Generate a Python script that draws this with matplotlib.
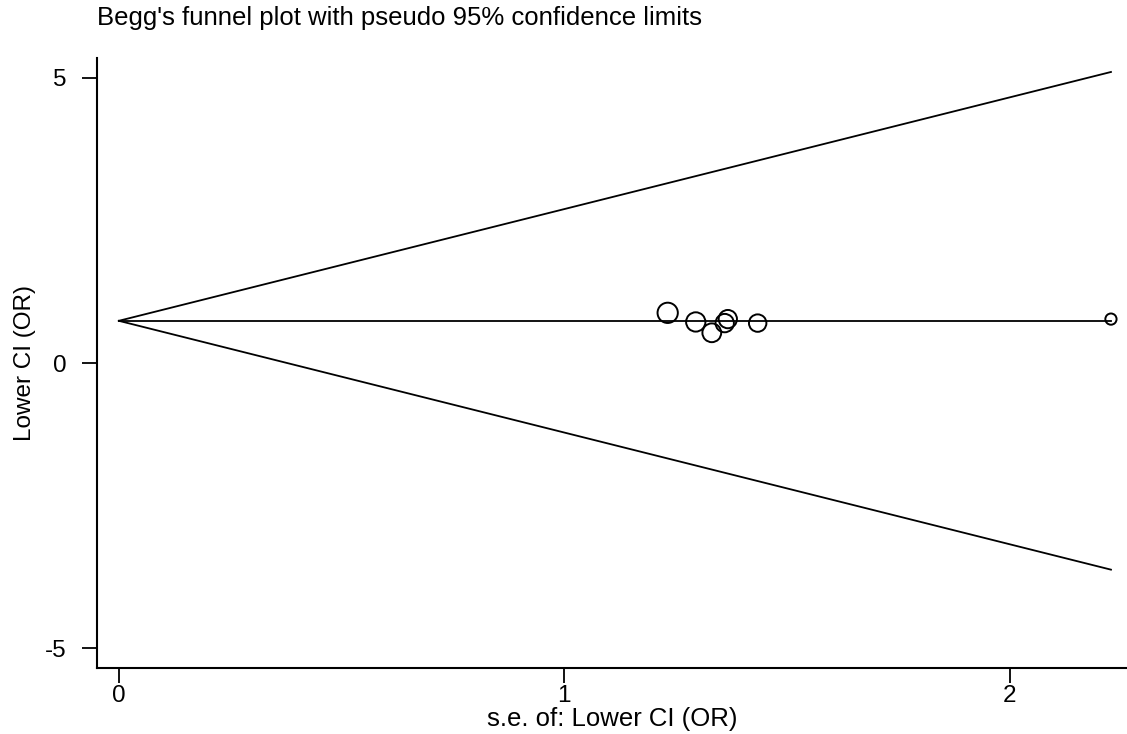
import numpy as np
import matplotlib
matplotlib.use("Agg")
import matplotlib.pyplot as plt

plt.rcParams['font.family'] = ['Liberation Sans', 'DejaVu Sans']
plt.rcParams['axes.unicode_minus'] = False

# Study estimates: standard error and log odds ratio (lower CI)
se = [1.232, 1.295, 1.331, 1.360, 1.367, 1.434, 2.227]
theta = [0.88, 0.72, 0.53, 0.70, 0.77, 0.70, 0.77]
pooled = 0.74
se_max = 2.227

title = "Begg's funnel plot with pseudo 95% confidence limits"
xlabel = "s.e. of: Lower CI (OR)"
ylabel = "Lower CI (OR)"
xticks = [0, 1, 2]
yticks = [5, 0, -5]

fig = plt.figure(figsize=(11.27, 7.34), dpi=100)
ax = fig.add_axes([97 / 1127, 66 / 734, 1 - 97 / 1127, (668 - 58) / 734])

s_line = np.array([0.0, se_max])
ax.plot(s_line, pooled + 1.96 * s_line, color='black', lw=1.3)
ax.plot(s_line, pooled - 1.96 * s_line, color='black', lw=1.3)
ax.plot(s_line, [pooled, pooled], color='black', lw=1.3)

# marker diameter scales with precision (1/se)
se_arr = np.array(se)
sizes = (0.72 * 25.0 / se_arr) ** 2
ax.scatter(se, theta, s=sizes, facecolors='none', edgecolors='black',
           linewidths=1.4, zorder=3)

ax.set_xlim(-0.049, 2.263)
ax.set_ylim(-5.35, 5.35)
ax.set_xticks(xticks)
ax.set_yticks(yticks)
ax.tick_params(direction='out', length=11, width=1.3, labelsize=17.5)
ax.tick_params(axis='x', pad=1)
ax.tick_params(axis='y', pad=11)
for side in ('top', 'right'):
    ax.spines[side].set_visible(False)
for side in ('left', 'bottom'):
    ax.spines[side].set_linewidth(1.5)

ax.set_xlabel(xlabel, fontsize=18.5, labelpad=0)
ax.set_ylabel(ylabel, fontsize=17.5, labelpad=6)
fig.text(97 / 1127, 1 - 18 / 734, title, fontsize=18.5, ha='left', va='center')

fig.savefig("out.png", dpi=100)
